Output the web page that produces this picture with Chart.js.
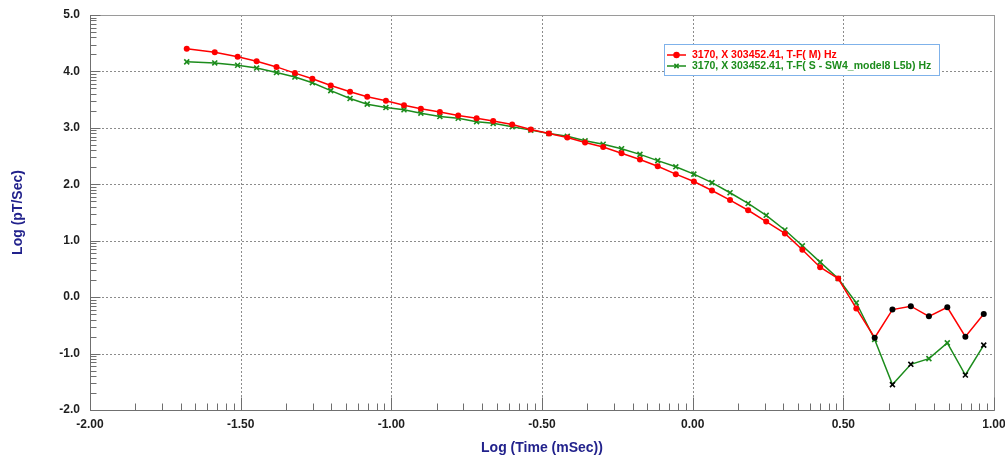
<!DOCTYPE html>
<html>
<head>
<meta charset="utf-8">
<title>Log (pT/Sec) vs Log (Time)</title>
<script src="https://cdn.jsdelivr.net/npm/chart.js@4.4.1/dist/chart.umd.min.js"></script>
<style>
  html, body { margin: 0; padding: 0; background: #fff; }
  #wrap { position: relative; width: 1005px; height: 459px; }
</style>
</head>
<body>
<div id="wrap"><canvas id="decayChart" width="1005" height="459"></canvas></div>
<script>
// gate times, log10(mSec)
const logTime = [-1.679, -1.586, -1.510, -1.447, -1.381, -1.320, -1.262, -1.201, -1.137, -1.080,
  -1.018, -0.958, -0.902, -0.839, -0.778, -0.717, -0.662, -0.599, -0.537, -0.477,
  -0.416, -0.357, -0.297, -0.236, -0.175, -0.116, -0.056, 0.004, 0.064, 0.124,
  0.184, 0.244, 0.306, 0.364, 0.423, 0.483, 0.543, 0.604, 0.663, 0.724,
  0.784, 0.845, 0.905, 0.966];

// measured response T-F( M), log10(pT/s)
const measured = [4.40, 4.34, 4.26, 4.18, 4.08, 3.97, 3.87, 3.75, 3.64, 3.55,
  3.48, 3.40, 3.34, 3.28, 3.22, 3.17, 3.12, 3.06, 2.97, 2.90,
  2.83, 2.74, 2.66, 2.55, 2.44, 2.32, 2.18, 2.05, 1.89, 1.72,
  1.54, 1.34, 1.13, 0.84, 0.53, 0.33, -0.20, -0.72, -0.22, -0.16,
  -0.34, -0.18, -0.70, -0.30];

// modelled response T-F( S - SW4_model8 L5b)
const modelled = [4.17, 4.15, 4.11, 4.06, 3.98, 3.90, 3.80, 3.66, 3.52, 3.42,
  3.36, 3.32, 3.26, 3.20, 3.17, 3.11, 3.08, 3.02, 2.96, 2.90,
  2.85, 2.77, 2.71, 2.63, 2.53, 2.42, 2.31, 2.18, 2.03, 1.85,
  1.66, 1.45, 1.19, 0.91, 0.62, 0.33, -0.10, -0.75, -1.55, -1.19,
  -1.09, -0.81, -1.38, -0.85];

// gates drawn with black markers (negative readings)
const measuredNeg = [37, 38, 39, 40, 41, 42, 43];
const modelledNeg = [38, 39, 42, 43];

const seriesNames = ['3170, X 303452.41, T-F( M) Hz', '3170, X 303452.41, T-F( S - SW4_model8 L5b) Hz'];
const xTicks = [-2, -1.5, -1, -0.5, 0, 0.5, 1];
const yTicks = [-2, -1, 0, 1, 2, 3, 4, 5];

const RED = '#ff0000';
const GREEN = '#1c8c1c';
const FONT = '"Liberation Sans", Arial, sans-serif';

function toPoints(ys) {
  return logTime.map((t, i) => ({ x: t, y: ys[i] }));
}

// grid, frame, log-style minor ticks and the legend box
const decorPlugin = {
  id: 'decor',
  beforeDatasetsDraw(chart) {
    const { ctx, chartArea: a, scales: { x, y } } = chart;
    const minor = [2, 3, 4, 5, 6, 7, 8, 9].map(k => Math.log10(k));
    ctx.save();
    ctx.lineWidth = 1;

    // dotted grid
    ctx.strokeStyle = '#8c8c8c';
    ctx.setLineDash([2, 2]);
    xTicks.slice(1, -1).forEach(v => {
      const px = Math.round(x.getPixelForValue(v)) + 0.5;
      ctx.beginPath(); ctx.moveTo(px, a.top); ctx.lineTo(px, a.bottom); ctx.stroke();
    });
    yTicks.slice(1, -1).forEach(v => {
      const py = Math.round(y.getPixelForValue(v)) + 0.5;
      ctx.beginPath(); ctx.moveTo(a.left, py); ctx.lineTo(a.right, py); ctx.stroke();
    });
    ctx.setLineDash([]);

    // frame
    ctx.strokeStyle = '#9a9a9a';
    ctx.strokeRect(Math.round(a.left) + 0.5, Math.round(a.top) + 0.5,
      Math.round(a.right - a.left), Math.round(a.bottom - a.top));
    ctx.strokeStyle = '#707070';
    ctx.beginPath();
    ctx.moveTo(Math.round(a.left) + 0.5, a.top); ctx.lineTo(Math.round(a.left) + 0.5, a.bottom + 0.5);
    ctx.lineTo(a.right, Math.round(a.bottom) + 0.5);
    ctx.stroke();

    // tick marks, drawn inward
    ctx.strokeStyle = '#6e6e6e';
    const lx = Math.round(a.left) + 0.5;
    for (let i = 0; i < yTicks.length; i++) {
      const v = yTicks[i];
      const py = Math.round(y.getPixelForValue(v)) + 0.5;
      ctx.beginPath(); ctx.moveTo(lx, py); ctx.lineTo(lx + 10, py); ctx.stroke();
      if (i < yTicks.length - 1) {
        minor.forEach(m => {
          const q = Math.round(y.getPixelForValue(v + m)) + 0.5;
          ctx.beginPath(); ctx.moveTo(lx, q); ctx.lineTo(lx + 6, q); ctx.stroke();
        });
      }
    }
    const by = Math.round(a.bottom) + 0.5;
    for (let i = 0; i < xTicks.length; i++) {
      const v = xTicks[i];
      const px = Math.round(x.getPixelForValue(v)) + 0.5;
      ctx.beginPath(); ctx.moveTo(px, by); ctx.lineTo(px, by - 13); ctx.stroke();
      if (i < xTicks.length - 1) {
        minor.forEach(m => {
          const q = Math.round(x.getPixelForValue(v + m * 0.5)) + 0.5;
          ctx.beginPath(); ctx.moveTo(q, by); ctx.lineTo(q, by - 7); ctx.stroke();
        });
      }
    }
    ctx.restore();
  },
  afterDatasetsDraw(chart) {
    const { ctx } = chart;
    const box = { left: 664.5, top: 44.5, w: 275, h: 31 };
    ctx.save();
    ctx.fillStyle = '#fff';
    ctx.fillRect(box.left, box.top, box.w, box.h);
    ctx.strokeStyle = '#7fb2ea';
    ctx.lineWidth = 1;
    ctx.strokeRect(box.left, box.top, box.w, box.h);

    const rows = [
      { text: seriesNames[0], color: RED, style: 'circle', y: 55 },
      { text: seriesNames[1], color: GREEN, style: 'crossRot', y: 66 }
    ];
    ctx.font = 'bold 10.5px ' + FONT;
    ctx.textBaseline = 'middle';
    rows.forEach(r => {
      ctx.strokeStyle = r.color;
      ctx.lineWidth = 1.5;
      ctx.beginPath(); ctx.moveTo(667, r.y); ctx.lineTo(686, r.y); ctx.stroke();
      ctx.fillStyle = r.color;
      Chart.helpers.drawPoint(ctx, { pointStyle: r.style, radius: r.style === 'circle' ? 2.5 : 3, borderWidth: 1.5, rotation: 0 }, 676.5, r.y);
      if (r.style === 'circle') { ctx.beginPath(); ctx.arc(676.5, r.y, 2.5, 0, Math.PI * 2); ctx.fill(); }
      ctx.fillText(r.text, 692, r.y + 0.5);
    });
    ctx.restore();
  }
};

const ctx = document.getElementById('decayChart').getContext('2d');

new Chart(ctx, {
  type: 'scatter',
  data: {
    datasets: [
      {
        label: seriesNames[0],
        data: toPoints(measured),
        showLine: true,
        borderColor: RED,
        borderWidth: 1.5,
        tension: 0,
        pointStyle: 'circle',
        pointRadius: 3,
        pointBorderWidth: 0,
        pointBackgroundColor: c => measuredNeg.includes(c.dataIndex) ? '#000' : RED,
        pointBorderColor: c => measuredNeg.includes(c.dataIndex) ? '#000' : RED
      },
      {
        label: seriesNames[1],
        data: toPoints(modelled),
        showLine: true,
        borderColor: GREEN,
        borderWidth: 1.5,
        tension: 0,
        pointStyle: 'crossRot',
        pointRadius: 3.5,
        pointBorderWidth: 1.6,
        pointBackgroundColor: GREEN,
        pointBorderColor: c => modelledNeg.includes(c.dataIndex) ? '#000' : GREEN
      }
    ]
  },
  options: {
    responsive: false,
    animation: false,
    layout: { padding: { top: 15, right: 11, left: 0, bottom: 0 } },
    plugins: {
      legend: { display: false },
      tooltip: { enabled: false }
    },
    scales: {
      x: {
        type: 'linear',
        min: -2,
        max: 1,
        afterFit: s => { s.height = 49; s.paddingLeft = 0; s.paddingRight = 0; },
        afterBuildTicks: s => { s.ticks = xTicks.map(v => ({ value: v })); },
        grid: { display: false, drawTicks: false },
        border: { display: false },
        ticks: {
          padding: 7,
          color: '#1e1e1e',
          font: { family: FONT, size: 12, weight: 'bold' },
          callback: v => v.toFixed(2)
        },
        title: {
          display: true,
          text: 'Log (Time (mSec))',
          color: '#22228c',
          font: { family: FONT, size: 14, weight: 'bold' },
          padding: { top: 0, bottom: 2 }
        }
      },
      y: {
        type: 'linear',
        min: -2,
        max: 5,
        afterFit: s => { s.width = 90; s.paddingTop = 0; s.paddingBottom = 0; },
        afterBuildTicks: s => { s.ticks = yTicks.map(v => ({ value: v })); },
        grid: { display: false, drawTicks: false },
        border: { display: false },
        ticks: {
          padding: 10,
          color: '#1e1e1e',
          font: { family: FONT, size: 12, weight: 'bold' },
          callback: v => v.toFixed(1)
        },
        title: {
          display: true,
          text: 'Log (pT/Sec)',
          color: '#22228c',
          font: { family: FONT, size: 14, weight: 'bold' },
          padding: { top: 10, bottom: 0 }
        }
      }
    }
  },
  plugins: [decorPlugin]
});
</script>
</body>
</html>
